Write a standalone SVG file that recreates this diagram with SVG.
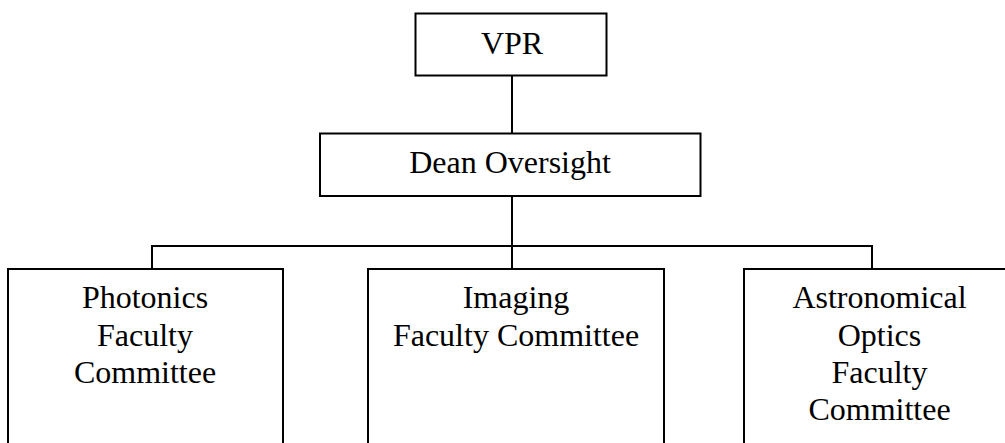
<svg xmlns="http://www.w3.org/2000/svg" width="1005" height="443" viewBox="0 0 1005 443">
<style>
.box{fill:#fff;stroke:#000;stroke-width:2}
.t{font-family:"Liberation Serif","Times New Roman",serif;font-size:32px;fill:#000;text-anchor:middle}
.c{fill:none;stroke:#000;stroke-width:2}
</style>
<rect width="1005" height="443" fill="#fff"/>
<g id="connectors">
<line class="c" x1="512" y1="75.5" x2="512" y2="133.5"/>
<line class="c" x1="512" y1="196" x2="512" y2="269"/>
<polyline class="c" points="152,269 152,246 872,246 872,269"/>
</g>
<g id="vpr">
<rect class="box" x="415.5" y="13.5" width="191" height="62"/>
<text class="t" x="512" y="54">VPR</text>
</g>
<g id="dean">
<rect class="box" x="320" y="133.5" width="380.5" height="62.5"/>
<text class="t" x="510" y="173">Dean Oversight</text>
</g>
<g id="photonics">
<rect class="box" x="8" y="269" width="275" height="190"/>
<text class="t" x="145" y="308">Photonics</text>
<text class="t" x="145" y="345.5">Faculty</text>
<text class="t" x="145" y="383">Committee</text>
</g>
<g id="imaging">
<rect class="box" x="368" y="269" width="296" height="190"/>
<text class="t" x="516" y="308">Imaging</text>
<text class="t" x="516" y="346">Faculty Committee</text>
</g>
<g id="astro">
<rect class="box" x="744" y="269" width="280" height="190"/>
<text class="t" x="879.5" y="308">Astronomical</text>
<text class="t" x="879.5" y="345.5">Optics</text>
<text class="t" x="879.5" y="383">Faculty</text>
<text class="t" x="879.5" y="420">Committee</text>
</g>
</svg>
